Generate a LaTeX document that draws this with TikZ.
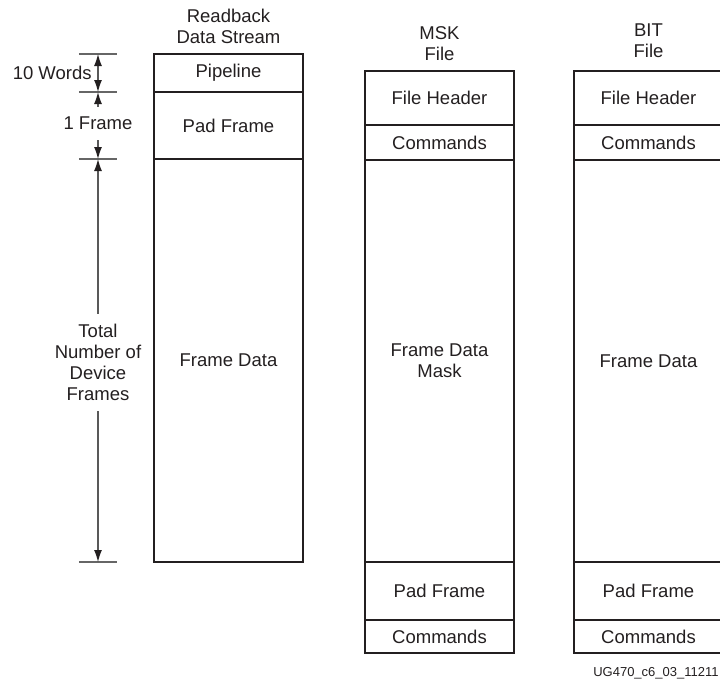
\documentclass[tikz,border=0pt]{standalone}
\usepackage{fontspec}
\setmainfont{Liberation Sans}
\usepackage{xcolor}
\usepackage{tikz}
\usetikzlibrary{positioning, arrows.meta, calc}
\definecolor{ink}{HTML}{231F20}

\begin{document}
\begin{tikzpicture}[x=0.5pt, y=-0.5pt, node distance=0pt, font=\fontsize{9.25}{10.5}\selectfont, text=ink]
    \tikzstyle{block} = [rectangle, draw=ink, line width=1pt, minimum width=74.5pt, inner sep=0pt, outer sep=0pt, align=center]
    \tikzstyle{title} = [align=center, inner sep=0pt]
    \tikzstyle{dimlabel} = [align=center, inner xsep=2pt, inner ysep=5pt]
    \tikzstyle{tick} = [draw=black!60, line width=0.6pt]
    \tikzstyle{dim} = [draw=black!65, line width=0.6pt, arrows={-Latex[length=6pt, width=4pt, color=ink]}]
    \tikzstyle{dimboth} = [dim, arrows={Latex[length=6pt, width=4pt, color=ink]-Latex[length=6pt, width=4pt, color=ink]}]

    \useasboundingbox (0,0) rectangle (720,687);

    \node [title] (rbtitle) at (228.5,26) {Readback\\Data Stream};
    \node [block, minimum height=19pt, anchor=north] (pipe) at (228.5,54) {Pipeline};
    \node [block, minimum height=33.5pt, below=of pipe] (pad) {Pad Frame};
    \node [block, minimum height=201.5pt, below=of pad] (data) {Frame Data};

    \node [title] (msktitle) at (439.5,44) {MSK\\File};
    \node [block, minimum height=27pt, anchor=north] (mhead) at (439.5,71) {File Header};
    \node [block, minimum height=17.5pt, below=of mhead] (mcmd) {Commands};
    \node [block, minimum height=201pt, below=of mcmd] (mmask) {Frame Data\\Mask};
    \node [block, minimum height=29pt, below=of mmask] (mpad) {Pad Frame};
    \node [block, minimum height=16.5pt, below=of mpad] (mend) {Commands};

    \node [title] (bittitle) at (648.5,41) {BIT\\File};
    \node [block, minimum height=27pt, anchor=north] (bhead) at (648.5,71) {File Header};
    \node [block, minimum height=17.5pt, below=of bhead] (bcmd) {Commands};
    \node [block, minimum height=201pt, below=of bcmd] (bdata) {Frame Data};
    \node [block, minimum height=29pt, below=of bdata] (bpad) {Pad Frame};
    \node [block, minimum height=16.5pt, below=of bpad] (bend) {Commands};

    \coordinate (dimx) at (98,0);
    \coordinate (t0) at (pipe.north -| dimx);
    \coordinate (t1) at (pad.north -| dimx);
    \coordinate (t2) at (data.north -| dimx);
    \coordinate (t3) at (data.south -| dimx);
    \foreach \t in {t0,t1,t2,t3}
        \draw [tick] (\t) +(-19,0) -- +(19,0);

    \node [title, anchor=east] (words) at ($(t0)!0.5!(t1)+(-6,0)$) {10 Words};
    \node [dimlabel] (oneframe) at ($(t1)!0.5!(t2)+(0,-2)$) {1 Frame};
    \node [dimlabel] (total) at ($(t2)!0.5!(t3)+(0,2)$) {Total\\Number of\\Device\\Frames};

    \draw [dimboth] (t0) -- (t1);
    \draw [dim] (oneframe.north) -- (t1);
    \draw [dim] (oneframe.south) -- (t2);
    \draw [dim] (total.north) -- (t2);
    \draw [dim] (total.south) -- (t3);

    \node [anchor=east, inner sep=0pt, font=\fontsize{6.5}{8}\selectfont] (figid) at (719,673) {UG470\_c6\_03\_11211};
\end{tikzpicture}
\end{document}
